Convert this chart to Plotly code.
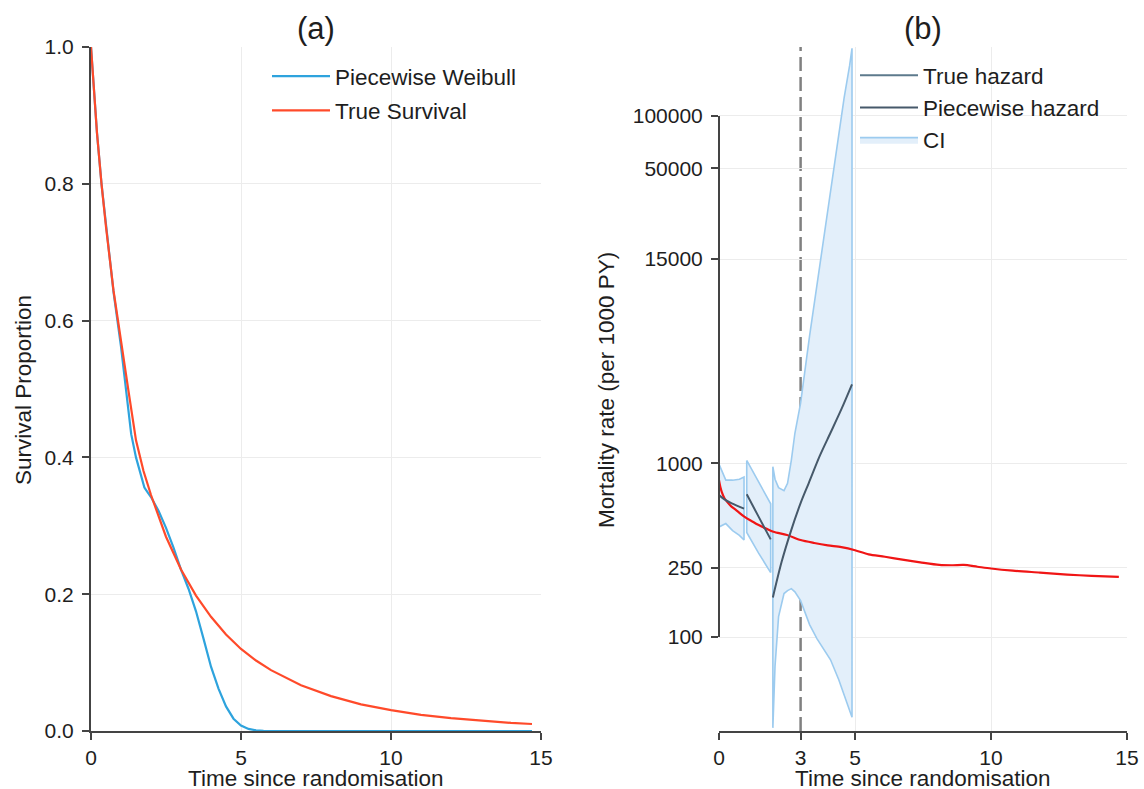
import math
import plotly.graph_objects as go

FIG_W, FIG_H = 1144, 789
FONT = "Liberation Sans, Arial, sans-serif"

# ---------------- Panel (a): survival proportion ----------------
t_true_surv = [0, 0.1, 0.2, 0.35, 0.5, 0.75, 1.0, 1.25, 1.5, 1.75, 2.0, 2.5, 3.0, 3.5,
               4.0, 4.5, 5.0, 5.5, 6.0, 7.0, 8.0, 9.0, 10.0, 11.0, 12.0, 13.0, 14.0, 14.7]
true_surv = [1.0, 0.932, 0.874, 0.80, 0.737, 0.644, 0.568, 0.497, 0.425, 0.38, 0.345, 0.284,
             0.236, 0.198, 0.167, 0.141, 0.120, 0.103, 0.089, 0.067, 0.051, 0.039, 0.0305,
             0.0237, 0.0187, 0.0149, 0.0119, 0.0102]

t_pw_surv = [0, 0.1, 0.2, 0.35, 0.5, 0.75, 1.0, 1.25, 1.34, 1.5, 1.62, 1.78, 1.9, 2.0, 2.25,
             2.5, 2.75, 3.0, 3.25, 3.5, 3.75, 4.0, 4.25, 4.5, 4.75, 5.0, 5.25, 5.5, 5.75, 6.0,
             8.0, 10.0, 12.0, 14.7]
pw_surv = [1.0, 0.932, 0.874, 0.80, 0.737, 0.642, 0.562, 0.465, 0.434, 0.40, 0.382, 0.356,
           0.348, 0.342, 0.322, 0.297, 0.268, 0.236, 0.208, 0.175, 0.135, 0.094, 0.062, 0.036,
           0.018, 0.008, 0.003, 0.001, 0.0003, 0.0, 0.0, 0.0, 0.0, 0.0]

# ---------------- Panel (b): mortality rate per 1000 PY ----------------
t_true_haz = [0, 0.05, 0.1, 0.2, 0.3, 0.45, 0.65, 0.93, 1.2, 1.46, 1.75, 2.0, 2.5, 3.0, 3.5,
              4.0, 4.5, 5.0, 5.5, 6.1, 6.8, 7.4, 8.1, 8.6, 9.0, 9.5, 10.0, 10.8, 11.8, 12.8,
              13.7, 14.7]
true_haz = [800, 730, 685, 630, 600, 565, 535, 493, 465, 441, 420, 404, 387, 362, 348, 337,
            329, 316, 299, 290, 278, 269, 260, 259, 260, 254, 248, 241, 235, 229, 225, 222]

# piecewise hazard, one list per interval
pw_haz_t = [[0, 0.2, 0.47, 0.92],
            [1.02, 1.45, 1.9],
            [1.98, 2.3, 2.65, 3.0, 3.3, 3.7, 4.1, 4.5, 4.89]]
pw_haz = [[656, 620, 588, 549],
          [663, 495, 365],
          [169, 270, 410, 590, 770, 1100, 1500, 2050, 2850]]

# confidence band, one list per interval
ci_t = [[0, 0.25, 0.5, 0.75, 0.92],
        [1.02, 1.45, 1.9],
        [1.98, 2.06, 2.19, 2.39, 2.52, 2.66, 2.79, 3.0, 3.33, 3.6, 3.87, 4.1, 4.4, 4.6,
         4.8, 4.89]]
ci_upper = [[990, 800, 800, 810, 835],
            [1040, 785, 585],
            [957, 810, 725, 696, 767, 1045, 1490, 2220, 5420, 10600, 20700, 36300, 79000,
             127000, 194000, 245000]]
ci_lower = [[430, 450, 410, 385, 362],
            [400, 305, 235],
            [30, 68, 131, 178, 185, 190, 182, 162, 118, 98, 84, 74, 57, 47, 38, 34.5]]

cut_time = 3

a_xticks = [0, 5, 10, 15]
a_yticks = [0.0, 0.2, 0.4, 0.6, 0.8, 1.0]
b_xticks = [0, 3, 5, 10, 15]
b_yticks = [100, 250, 1000, 15000, 50000, 100000]

# ---------------- layout geometry (pixels -> paper) ----------------
def px_x(p):
    return p / FIG_W

def px_y(p):
    return 1 - p / FIG_H

dom_xa = [px_x(91), px_x(541)]
dom_xb = [px_x(719), px_x(1127)]
dom_y = [px_y(731), px_y(47)]
b_yrange = [1.459, 5.397]

AXIS_COL = "#444444"
GRID_COL = "#ececec"
TEXT_COL = "#1e1e1e"

fig = go.Figure()

# panel (a)
fig.add_trace(go.Scatter(x=t_pw_surv, y=pw_surv, mode="lines", name="Piecewise Weibull",
                         line=dict(color="#2ea3dd", width=2.2), xaxis="x", yaxis="y",
                         legend="legend", legendgroup="a1"))
fig.add_trace(go.Scatter(x=t_true_surv, y=true_surv, mode="lines", name="True Survival",
                         line=dict(color="#ff4a2a", width=2.2), xaxis="x", yaxis="y",
                         legend="legend", legendgroup="a2"))

# panel (b)
def join_segments(xs_list, ys_list):
    xs, ys = [], []
    for xs_seg, ys_seg in zip(xs_list, ys_list):
        xs += list(xs_seg) + [None]
        ys += list(ys_seg) + [None]
    return xs[:-1], ys[:-1]

band_x, band_y = [], []
for tt, up, lo in zip(ci_t, ci_upper, ci_lower):
    band_x += list(tt) + list(reversed(tt)) + [tt[0], None]
    band_y += list(up) + list(reversed(lo)) + [up[0], None]
band_x, band_y = band_x[:-1], band_y[:-1]

fig.add_trace(go.Scatter(x=band_x, y=band_y, mode="lines", fill="toself", name="CI",
                         fillcolor="#e3effa", line=dict(color="#9ccbef", width=1.6),
                         xaxis="x2", yaxis="y2", legend="legend2", legendgroup="b3",
                         legendrank=3))

fig.add_trace(go.Scatter(x=t_true_haz, y=true_haz, mode="lines", name="True hazard",
                         line=dict(color="#f01515", width=2.2, shape="spline",
                                   smoothing=0.8),
                         showlegend=False, xaxis="x2", yaxis="y2"))

seg_x, seg_y = join_segments(pw_haz_t, pw_haz)
fig.add_trace(go.Scatter(x=seg_x, y=seg_y, mode="lines", name="Piecewise hazard",
                         line=dict(color="#46596a", width=2, shape="spline", smoothing=0.8),
                         xaxis="x2", yaxis="y2", legend="legend2", legendgroup="b2",
                         legendrank=2))

# legend key for the true hazard curve
fig.add_trace(go.Scatter(x=[None], y=[None], mode="lines", name="True hazard",
                         line=dict(color="#5d7a8c", width=2), xaxis="x2", yaxis="y2",
                         legend="legend2", legendgroup="b1", legendrank=1))

tick_font = dict(family=FONT, size=21, color=TEXT_COL)

common_axis = dict(showline=True, linecolor=AXIS_COL, linewidth=2, ticks="outside",
                   ticklen=7, tickwidth=1.5, tickcolor=AXIS_COL, tickfont=tick_font,
                   showgrid=True, gridcolor=GRID_COL, gridwidth=1, zeroline=False,
                   automargin=False)

fig.update_layout(
    width=FIG_W, height=FIG_H,
    margin=dict(l=0, r=0, t=0, b=0),
    paper_bgcolor="white", plot_bgcolor="white",
    font=dict(family=FONT, color=TEXT_COL),
    xaxis=dict(common_axis, domain=dom_xa, range=[0, 15], tickvals=a_xticks,
               anchor="y", ticklabelstandoff=0),
    yaxis=dict(common_axis, domain=dom_y, range=[0, 1], tickvals=a_yticks,
               tickformat=".1f", anchor="x", ticklabelstandoff=4),
    xaxis2=dict(common_axis, domain=dom_xb, range=[0, 15], tickvals=b_xticks,
                showgrid=False, anchor="y2", ticklabelstandoff=0,
                minor=dict(tickvals=a_xticks, showgrid=True, gridcolor=GRID_COL,
                           gridwidth=1, ticks="")),
    yaxis2=dict(common_axis, domain=dom_y, type="log", range=b_yrange,
                tickvals=b_yticks, ticktext=[str(v) for v in b_yticks],
                showline=False, anchor="x2", ticklabelstandoff=4),
    legend=dict(x=px_x(267), y=px_y(55), xanchor="left", yanchor="top",
                bgcolor="rgba(0,0,0,0)", font=dict(family=FONT, size=22.5, color=TEXT_COL),
                traceorder="grouped", tracegroupgap=2, itemwidth=58),
    legend2=dict(x=px_x(855), y=px_y(54), xanchor="left", yanchor="top",
                 bgcolor="rgba(0,0,0,0)", font=dict(family=FONT, size=22.5, color=TEXT_COL),
                 traceorder="grouped", tracegroupgap=0, itemwidth=58),
)

# y-axis line of panel (b) spans the labelled tick range only
def b_paper_y(v):
    frac = (math.log10(v) - b_yrange[0]) / (b_yrange[1] - b_yrange[0])
    return dom_y[0] + frac * (dom_y[1] - dom_y[0])

fig.add_shape(type="line", xref="paper", yref="paper",
              x0=dom_xb[0], x1=dom_xb[0], y0=b_paper_y(min(b_yticks)),
              y1=b_paper_y(max(b_yticks)), line=dict(color=AXIS_COL, width=2))

# cut point marker, drawn beneath the confidence band
fig.add_shape(type="line", xref="x2", yref="y2 domain", x0=cut_time, x1=cut_time,
              y0=0, y1=1, layer="below",
              line=dict(color="#808080", width=2.5, dash="14px,6px"))

# panel titles and axis titles
title_font = dict(family=FONT, size=31, color=TEXT_COL)
axis_title_font = dict(family=FONT, size=22.5, color=TEXT_COL)
for text, dom in (("(a)", dom_xa), ("(b)", dom_xb)):
    fig.add_annotation(text=text, x=(dom[0] + dom[1]) / 2, y=px_y(28), xref="paper",
                       yref="paper", showarrow=False, font=title_font,
                       xanchor="center", yanchor="middle")
    fig.add_annotation(text="Time since randomisation", x=(dom[0] + dom[1]) / 2,
                       y=px_y(778), xref="paper", yref="paper", showarrow=False,
                       font=axis_title_font, xanchor="center", yanchor="middle")

fig.add_annotation(text="Survival Proportion", x=px_x(23), y=px_y(390), xref="paper",
                   yref="paper", showarrow=False, textangle=-90, font=axis_title_font,
                   xanchor="center", yanchor="middle")
fig.add_annotation(text="Mortality rate (per 1000 PY)", x=px_x(606), y=px_y(390),
                   xref="paper", yref="paper", showarrow=False, textangle=-90,
                   font=axis_title_font, xanchor="center", yanchor="middle")

fig.write_html("out.html")
